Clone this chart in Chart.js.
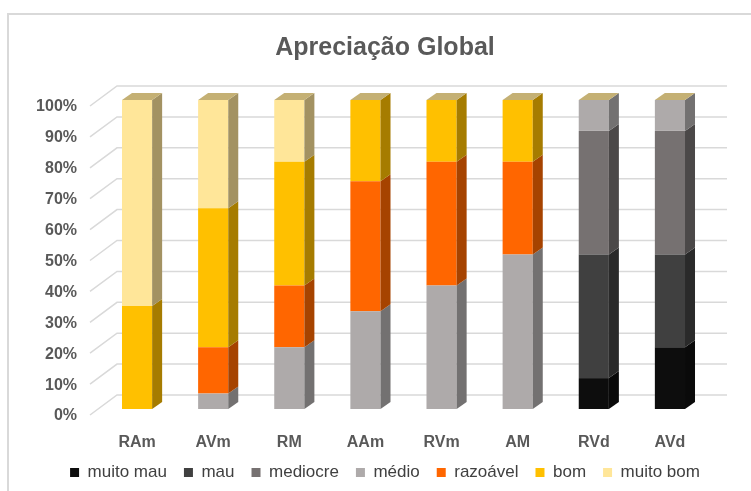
<!DOCTYPE html>
<html>
<head>
<meta charset="utf-8">
<script src="https://cdn.jsdelivr.net/npm/chart.js@4"></script>
<style>
  html, body { margin: 0; padding: 0; background: #fff; }
  #wrap { position: relative; width: 751px; height: 491px; }
  #frame { position: absolute; left: 7px; top: 13px; width: 760px; height: 500px;
           border-left: 2px solid #d9d9d9; border-top: 2px solid #d9d9d9; }
  canvas { position: absolute; left: 0; top: 0; }
</style>
</head>
<body>
<div id="wrap">
  <div id="frame"></div>
  <canvas id="chart" width="751" height="491"></canvas>
</div>
<script>
const categories = ['RAm', 'AVm', 'RM', 'AAm', 'RVm', 'AM', 'RVd', 'AVd'];
const seriesNames = ['muito mau', 'mau', 'mediocre', 'médio', 'razoável', 'bom', 'muito bom'];

const muitoMau = [0, 0, 0, 0, 0, 0, 10, 20];
const mau = [0, 0, 0, 0, 0, 0, 40, 30];
const mediocre = [0, 0, 0, 0, 0, 0, 40, 40];
const medio = [0, 5, 20, 31.6, 40, 50, 10, 10];
const razoavel = [0, 15, 20, 42.1, 40, 30, 0, 0];
const bom = [33.3, 45, 40, 26.3, 20, 20, 0, 0];
const muitoBom = [66.7, 35, 20, 0, 0, 0, 0, 0];

const seriesValues = [muitoMau, mau, mediocre, medio, razoavel, bom, muitoBom];
const frontColors = ['#0d0d0d', '#404040', '#767171', '#aeaaaa', '#ff6600', '#ffc000', '#ffe699'];
const sideColors = ['#0a0a0a', '#2a2a2a', '#4b4848', '#737171', '#a64300', '#a67c00', '#a39262'];
const topColor = '#c4b074';

const DX = 10, DY = -7;

// fake 3d: back wall grid, side and top faces of the columns
const depth3d = {
  id: 'depth3d',
  beforeDatasetsDraw(chart) {
    const ctx = chart.ctx;
    const y = chart.scales.y;
    const area = chart.chartArea;
    ctx.save();
    ctx.strokeStyle = '#d9d9d9';
    ctx.lineWidth = 1.5;
    y.ticks.forEach(t => {
      const py = y.getPixelForValue(t.value);
      ctx.beginPath();
      ctx.moveTo(area.left - 9, py + 6);
      ctx.lineTo(area.left + 18, py - 14);
      ctx.lineTo(area.right + 19, py - 14);
      ctx.stroke();
    });
    ctx.restore();
  },
  afterDatasetsDraw(chart) {
    const ctx = chart.ctx;
    const n = chart.data.labels.length;
    const tops = new Array(n).fill(null);
    ctx.save();
    chart.data.datasets.forEach((ds, di) => {
      const meta = chart.getDatasetMeta(di);
      meta.data.forEach((bar, i) => {
        const p = bar.getProps(['x', 'y', 'base', 'width'], true);
        if (Math.abs(p.base - p.y) < 0.5) return;
        const left = p.x - p.width / 2, right = p.x + p.width / 2;
        ctx.fillStyle = sideColors[di];
        ctx.beginPath();
        ctx.moveTo(right, p.y);
        ctx.lineTo(right + DX, p.y + DY);
        ctx.lineTo(right + DX, p.base + DY);
        ctx.lineTo(right, p.base);
        ctx.closePath();
        ctx.fill();
        tops[i] = {left, right, y: p.y};
      });
    });
    tops.forEach(t => {
      if (!t) return;
      ctx.fillStyle = topColor;
      ctx.beginPath();
      ctx.moveTo(t.left, t.y);
      ctx.lineTo(t.left + DX, t.y + DY);
      ctx.lineTo(t.right + DX, t.y + DY);
      ctx.lineTo(t.right, t.y);
      ctx.closePath();
      ctx.fill();
    });
    ctx.restore();
  }
};

new Chart(document.getElementById('chart'), {
  type: 'bar',
  data: {
    labels: categories,
    datasets: seriesNames.map((name, i) => ({
      label: name,
      data: seriesValues[i],
      backgroundColor: frontColors[i],
      borderWidth: 0,
      barPercentage: 0.66,
      categoryPercentage: 0.6
    }))
  },
  options: {
    responsive: false,
    animation: false,
    layout: { padding: { left: 19, right: 0, top: 0, bottom: 0 } },
    plugins: {
      title: {
        display: true,
        text: 'Apreciação Global',
        color: '#595959',
        font: { family: 'Liberation Sans, Arial, sans-serif', size: 25, weight: 'bold' },
        padding: { top: 33, bottom: 37 }
      },
      legend: {
        position: 'bottom',
        labels: {
          color: '#404040',
          font: { family: 'Liberation Sans, Arial, sans-serif', size: 17 },
          boxWidth: 9,
          boxHeight: 9,
          padding: 17
        }
      },
      tooltip: { enabled: false }
    },
    scales: {
      x: {
        stacked: true,
        grid: { display: false },
        border: { display: false },
        ticks: {
          color: '#595959',
          padding: 16,
          font: { family: 'Liberation Sans, Arial, sans-serif', size: 16, weight: 'bold' }
        },
        afterFit(scale) { scale.height = 38; }
      },
      y: {
        stacked: true,
        min: 0,
        max: 100,
        grid: { display: false, drawTicks: false },
        border: { display: false },
        ticks: {
          stepSize: 10,
          color: '#595959',
          padding: 22,
          labelOffset: 7,
          font: { family: 'Liberation Sans, Arial, sans-serif', size: 16, weight: 'bold' },
          callback: v => v + '%'
        },
        afterFit(scale) { scale.width = 80; }
      },
      // empty right-hand space so the title and legend sit where they do in the original
      yRight: {
        position: 'right',
        display: true,
        grid: { display: false, drawTicks: false },
        border: { display: false },
        ticks: { display: false },
        afterFit(scale) { scale.width = 43; }
      }
    }
  },
  plugins: [depth3d]
});
</script>
</body>
</html>
